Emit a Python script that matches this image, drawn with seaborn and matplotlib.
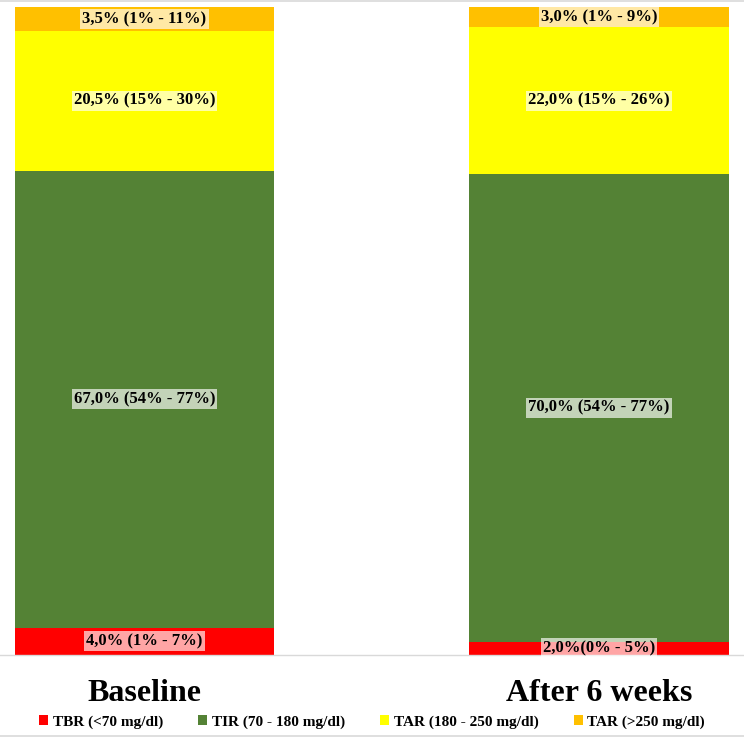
import numpy as np
import pandas as pd
import matplotlib
matplotlib.use('Agg')
import matplotlib.pyplot as plt
from matplotlib.patches import Patch
from matplotlib.lines import Line2D
import seaborn as sns

# ── Data ──────────────────────────────────────────────────────────────────────
periods = ['Baseline', 'After 6 weeks']
zones = ['TBR (<70 mg/dl)', 'TIR (70 - 180 mg/dl)',
         'TAR (180 - 250 mg/dl)', 'TAR (>250 mg/dl)']
tbr = [4.0, 2.0]
tir = [67.0, 70.0]
tar = [20.5, 22.0]
tar_high = [3.5, 3.0]
tbr_txt = ['4,0% (1% - 7%)', '2,0%(0% - 5%)']
tir_txt = ['67,0% (54% - 77%)', '70,0% (54% - 77%)']
tar_txt = ['20,5% (15% - 30%)', '22,0% (15% - 26%)']
tar_high_txt = ['3,5% (1% - 11%)', '3,0% (1% - 9%)']
zone_colors = ['#ff0000', '#548235', '#ffff00', '#ffc000']

# ── Normalise to 100 % stacked ───────────────────────────────────────────────
vals = pd.DataFrame({'tbr': tbr, 'tir': tir, 'tar': tar, 'tar_high': tar_high},
                    index=periods)
share = vals.div(vals.sum(axis=1), axis=0) * 100
cum = share.cumsum(axis=1)
texts = [tbr_txt, tir_txt, tar_txt, tar_high_txt]

sns.set_style('white')
plt.rcParams['font.family'] = ['Liberation Serif', 'DejaVu Serif']
plt.rcParams['text.color'] = 'black'
plt.rcParams['xtick.color'] = 'black'

fig = plt.figure(figsize=(7.44, 7.37), dpi=100)
ax = fig.add_axes([0, 0.1113, 1, 0.8792])

# draw cumulative bars from top segment down so they stack
for i in range(3, -1, -1):
    col = cum.columns[i]
    sns.barplot(x=periods, y=cum[col].values, color=zone_colors[i],
                width=0.57, saturation=1, ax=ax, edgecolor='none')

# segment labels
for i, col in enumerate(cum.columns):
    for j, p in enumerate(periods):
        mid = cum.loc[p, col] - share.loc[p, col] / 2
        ax.text(j, mid, texts[i][j], ha='center', va='center',
                fontsize=12, fontweight='bold', color='black',
                bbox=dict(boxstyle='square,pad=0.12', facecolor='white',
                          alpha=0.65, edgecolor='none'))

ax.set_ylim(0, 100)
ax.set_xlim(-0.318, 1.319)
ax.set_yticks([])
ax.set_ylabel('')
ax.tick_params(axis='x', length=0, pad=17, labelcolor='black')
ax.set_xticklabels(periods, fontsize=23, fontweight='bold', color='black')
for s in ['top', 'left', 'right']:
    ax.spines[s].set_visible(False)
ax.spines['bottom'].set_color('#d9d9d9')
ax.spines['bottom'].set_linewidth(1)

handles = [Patch(facecolor=c, edgecolor='none') for c in zone_colors]
leg = fig.legend(handles, zones, loc='center', bbox_to_anchor=(0.5, 0.0205),
                 ncol=4, frameon=False, handlelength=0.6, handleheight=0.6,
                 handletextpad=0.3, columnspacing=2.3,
                 prop={'family': 'Liberation Serif', 'weight': 'bold', 'size': 11})
for t in leg.get_texts():
    t.set_color('black')

# thin chart-area border lines at top and bottom
fig.add_artist(Line2D([0, 1], [0.9985, 0.9985], color='#d9d9d9', lw=1.2))
fig.add_artist(Line2D([0, 1], [0.0015, 0.0015], color='#d9d9d9', lw=1.2))

fig.savefig('out.png', dpi=100)
